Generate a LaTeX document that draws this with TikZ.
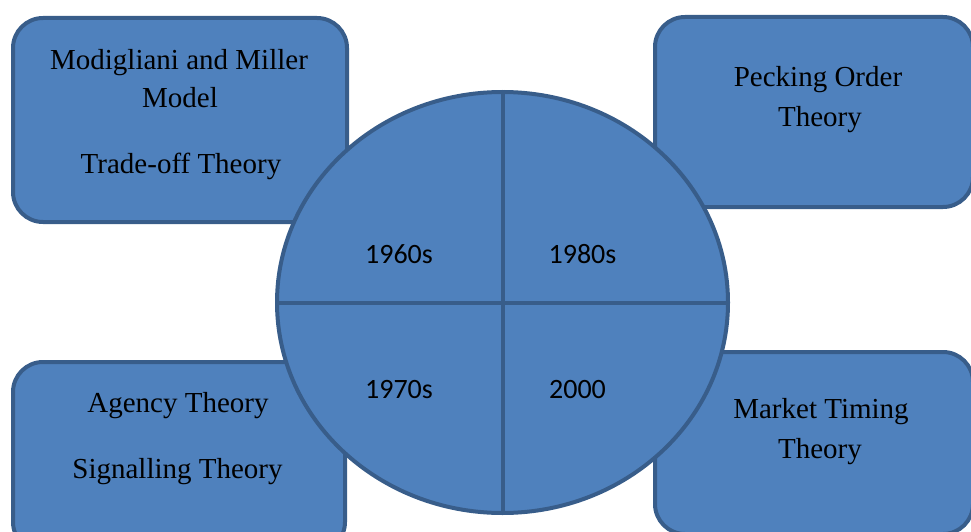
\documentclass[tikz,border=0pt]{standalone}
\usepackage{fontspec}
\setmainfont{Liberation Serif}
\newfontfamily\numfont{Carlito}
\usetikzlibrary{shapes.geometric}
\definecolor{boxfill}{HTML}{4F81BD}
\definecolor{boxline}{HTML}{385D8A}
\tikzset{
  theorybox/.style={draw=boxline, fill=boxfill, line width=4pt, rounded corners=30pt, inner sep=0pt},
  serifline/.style={anchor=base, inner sep=0pt, font=\fontsize{29}{34}\selectfont},
  eralabel/.style={anchor=base, inner sep=0pt, font=\numfont\fontsize{28}{34}\selectfont},
}
\begin{document}
\begin{tikzpicture}[x=1pt,y=-1pt]
\useasboundingbox (0,0) rectangle (971,532);
\clip (0,0) rectangle (971,532);
% boxes
\node[theorybox, minimum width=334pt, minimum height=204pt] (tl) at (180,120) {};
\node[theorybox, minimum width=318pt, minimum height=190pt] (tr) at (814,112) {};
\node[theorybox, minimum width=332pt, minimum height=190pt] (bl) at (179,457) {};
\node[theorybox, minimum width=318pt, minimum height=182pt] (br) at (814,443) {};
% circle
\node[ellipse, draw=boxline, fill=boxfill, line width=4pt, minimum width=451pt, minimum height=421pt, inner sep=0pt] (c) at (502.5,302.5) {};
\draw[boxline, line width=4pt] (c.north) -- (c.south);
\draw[boxline, line width=4pt] (c.west) -- (c.east);
% era labels
\node[eralabel] (e60) at (399,263) {1960s};
\node[eralabel] (e80) at (582.5,263) {1980s};
\node[eralabel] (e70) at (399,398) {1970s};
\node[eralabel] (e00) at (577.5,398) {2000};
% box texts
\node[serifline] (t1) at (179,70) {Modigliani and Miller};
\node[serifline] (t2) at (180,107) {Model};
\node[serifline] (t3) at (181,173) {Trade-off Theory};
\node[serifline] (t4) at (818,87) {Pecking Order};
\node[serifline] (t5) at (820,127) {Theory};
\node[serifline] (t6) at (178,412) {Agency Theory};
\node[serifline] (t7) at (177.5,478) {Signalling Theory};
\node[serifline] (t8) at (821,418) {Market Timing};
\node[serifline] (t9) at (820,458) {Theory};
\end{tikzpicture}
\end{document}
